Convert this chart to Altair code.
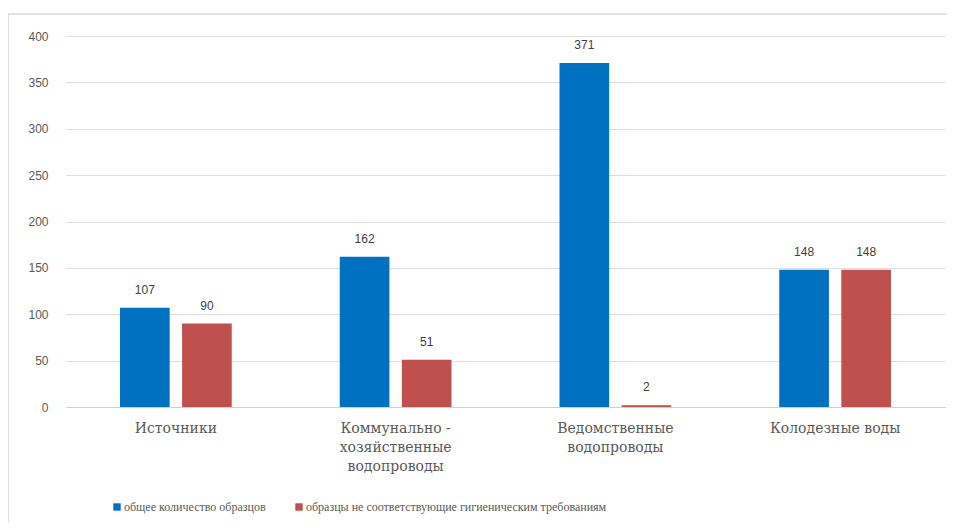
import altair as alt
import pandas as pd

categories = ["Источники", "Коммунально -|хозяйственные|водопроводы",
              "Ведомственные|водопроводы", "Колодезные воды"]
series = ["общее количество образцов",
          "образцы не соответствующие гигиеническим требованиям"]
total_samples = [107, 162, 371, 148]
bad_samples = [90, 51, 2, 148]
colors = ["#0070C0", "#C0504D"]

rows = []
for c, v in zip(categories, total_samples):
    rows.append({"cat": c, "series": series[0], "value": v})
for c, v in zip(categories, bad_samples):
    rows.append({"cat": c, "series": series[1], "value": v})
df = pd.DataFrame(rows)

W, H = 879, 371
SERIF = "DejaVu Serif"

x_enc = alt.X("cat:N", sort=categories, title=None,
              scale=alt.Scale(paddingInner=0, paddingOuter=0),
              axis=alt.Axis(labelExpr="split(datum.label, '|')", labelAngle=0,
                            labelFont=SERIF, labelFontSize=14,
                            labelColor="#595959", labelPadding=14,
                            labelLineHeight=19, ticks=False, grid=False,
                            domainColor="#d0d0d0", domainWidth=1.2))
xoff = alt.XOffset("series:N", sort=series,
                   scale=alt.Scale(paddingInner=0.2, paddingOuter=0.87))
y_enc = alt.Y("value:Q", title=None,
              scale=alt.Scale(domain=[0, 400]),
              axis=alt.Axis(values=list(range(0, 401, 50)), domain=False, ticks=False,
                            labelFont="Liberation Sans", labelFontSize=12,
                            labelColor="#595959", labelPadding=18,
                            gridColor="#dedede", gridWidth=1.2))

frame = alt.Chart(pd.DataFrame({"a": [0]})).mark_rect(
    fill=None, stroke="#d9d9d9", strokeWidth=1.5, clip=False
).encode(x=alt.value(-58), x2=alt.value(900), y=alt.value(-22), y2=alt.value(560))

bars = alt.Chart(df).mark_bar().encode(
    x=x_enc, xOffset=xoff, y=y_enc,
    color=alt.Color("series:N", sort=series,
                    scale=alt.Scale(domain=series, range=colors),
                    legend=alt.Legend(title=None, orient="none", direction="horizontal",
                                      legendX=45, legendY=465,
                                      symbolType="square", symbolSize=55,
                                      symbolStrokeWidth=0, symbolOffset=0,
                                      labelFont="Liberation Serif", labelFontSize=12,
                                      labelColor="#595959", labelOffset=1,
                                      columnPadding=27, labelLimit=600))
)

labels = alt.Chart(df).mark_text(
    baseline="bottom", dy=-11, font="Liberation Sans", fontSize=12, color="#404040"
).encode(x=alt.X("cat:N", sort=categories),
         xOffset=alt.XOffset("series:N", sort=series),
         y="value:Q", text="value:Q")

chart = alt.layer(frame, bars, labels).properties(
    width=W, height=H,
    background="white",
    autosize=alt.AutoSizeParams(type="none"),
    padding={"left": 58, "top": 28, "right": 2, "bottom": 116},
).configure_view(strokeWidth=0, stroke=None)

chart.save("out.html", embed_options={"renderer": "svg", "actions": False})
